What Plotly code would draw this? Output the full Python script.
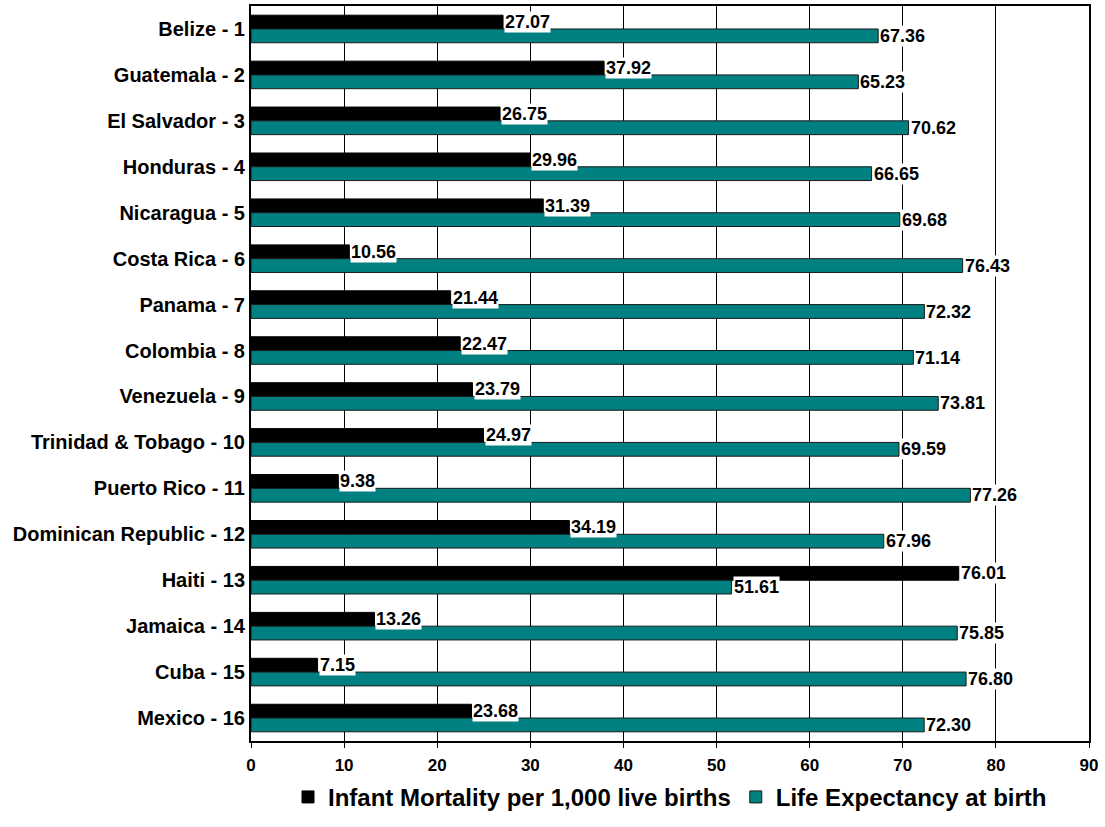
import plotly.graph_objects as go

countries = [
    "Belize - 1", "Guatemala - 2", "El Salvador - 3", "Honduras - 4",
    "Nicaragua - 5", "Costa Rica - 6", "Panama - 7", "Colombia - 8",
    "Venezuela - 9", "Trinidad & Tobago - 10", "Puerto Rico - 11",
    "Dominican Republic - 12", "Haiti - 13", "Jamaica - 14", "Cuba - 15",
    "Mexico - 16",
]
infant_mortality = [27.07, 37.92, 26.75, 29.96, 31.39, 10.56, 21.44, 22.47,
                    23.79, 24.97, 9.38, 34.19, 76.01, 13.26, 7.15, 23.68]
life_expectancy = [67.36, 65.23, 70.62, 66.65, 69.68, 76.43, 72.32, 71.14,
                   73.81, 69.59, 77.26, 67.96, 51.61, 75.85, 76.80, 72.30]
x_ticks = [0, 10, 20, 30, 40, 50, 60, 70, 80, 90]

FONT = "Liberation Sans, Arial, sans-serif"
TEAL = "#008080"

fig = go.Figure()
fig.add_trace(go.Bar(
    y=countries, x=infant_mortality, orientation="h",
    name="<b>Infant Mortality per 1,000 live births</b>",
    marker=dict(color="black", line=dict(color="black", width=1)),
))
fig.add_trace(go.Bar(
    y=countries, x=life_expectancy, orientation="h",
    name="<b>Life Expectancy at birth</b>",
    marker=dict(color=TEAL, line=dict(color="#1a1a1a", width=1)),
))

# value labels with white boxes, offset to sit beside each bar of the pair
for c, v in zip(countries, infant_mortality):
    fig.add_annotation(x=v, y=c, xref="x", yref="y", text=f"<b>{v:.2f}</b>",
                       showarrow=False, xanchor="left", yanchor="middle",
                       yshift=7, xshift=1, bgcolor="white", borderpad=0,
                       font=dict(family=FONT, size=18, color="black"))
for c, v in zip(countries, life_expectancy):
    fig.add_annotation(x=v, y=c, xref="x", yref="y", text=f"<b>{v:.2f}</b>",
                       showarrow=False, xanchor="left", yanchor="middle",
                       yshift=-7, xshift=1, bgcolor="white", borderpad=0,
                       font=dict(family=FONT, size=18, color="black"))

fig.update_layout(
    width=1105, height=827,
    margin=dict(l=251, r=16, t=6, b=86, autoexpand=False),
    paper_bgcolor="white", plot_bgcolor="white",
    barmode="group", bargap=0.4, bargroupgap=0,
    font=dict(family=FONT, color="black"),
    showlegend=True,
    legend=dict(orientation="h", x=0.5, xanchor="center", y=-0.046,
                yanchor="top", font=dict(family=FONT, size=24, color="black"),
                itemwidth=30, tracegroupgap=0),
)
fig.update_xaxes(
    range=[0, 90], tickvals=x_ticks, ticktext=[f"<b>{t}</b>" for t in x_ticks],
    showgrid=True, gridcolor="black", gridwidth=1,
    showline=True, linecolor="black", linewidth=2, mirror=True,
    ticks="outside", ticklen=5, tickcolor="black", ticklabelstandoff=3,
    tickfont=dict(family=FONT, size=17, color="black"), zeroline=False,
)
fig.update_yaxes(
    autorange="reversed", categoryorder="array", categoryarray=countries,
    tickvals=countries, ticktext=[f"<b>{c}</b>" for c in countries],
    showline=True, linecolor="black", linewidth=2, mirror=True,
    ticks="", tickfont=dict(family=FONT, size=20, color="black"),
)

fig.write_html("out.html")
